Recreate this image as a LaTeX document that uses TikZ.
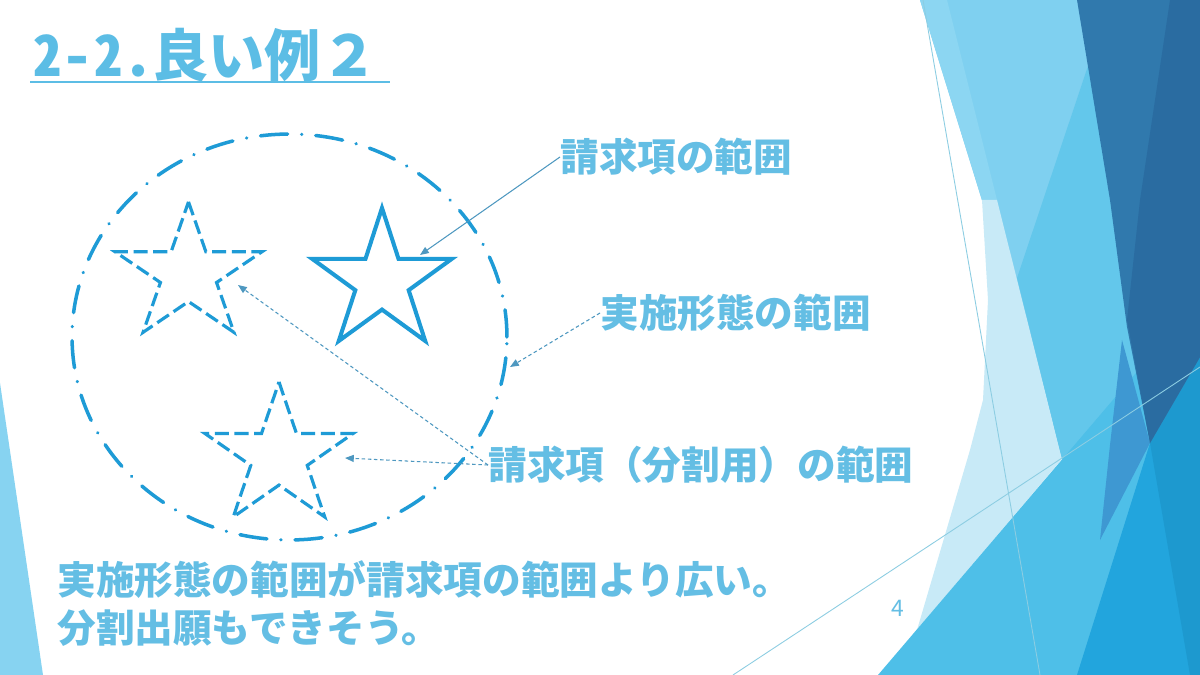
\documentclass[tikz,border=0pt]{standalone}
\usepackage{fontspec}
\setmainfont{Noto Sans CJK JP}
\usetikzlibrary{arrows.meta}
\definecolor{txtblue}{RGB}{100,190,228}
\definecolor{ttlblue}{RGB}{92,189,229}
\definecolor{shpblue}{RGB}{30,155,214}
\definecolor{arrblue}{RGB}{78,152,192}
\definecolor{bgLB}{RGB}{127,208,240}
\definecolor{bgLS}{RGB}{140,214,242}
\definecolor{bgP}{RGB}{200,234,247}
\definecolor{bgM}{RGB}{99,199,235}
\definecolor{bgBT}{RGB}{78,191,232}
\definecolor{bgBTb}{RGB}{34,165,221}
\definecolor{bgBTc}{RGB}{29,153,207}
\definecolor{bgMD}{RGB}{62,152,210}
\definecolor{bgD}{RGB}{48,121,173}
\definecolor{bgDD}{RGB}{42,108,161}
\definecolor{bgLine}{RGB}{140,205,226}
\definecolor{bgLeft}{RGB}{135,211,241}
\begin{document}
\begin{tikzpicture}[x=0.02cm,y=-0.02cm,
  lbl/.style={inner sep=0pt, anchor=west, text=txtblue, font=\fontsize{22}{26}\selectfont\bfseries},
  cline/.style={arrblue, line width=0.6pt, -{Triangle[length=5pt,width=4pt]}},
  dline/.style={cline, dash pattern=on 2pt off 1.5pt},
  solidstar/.style={draw=shpblue, line width=2.3pt, line join=miter},
  dashstar/.style={draw=shpblue, line width=1.8pt, dash pattern=on 8pt off 3.2pt},
  ringline/.style={draw=shpblue, line width=2pt, line cap=round, dash pattern=on 15.5pt off 8pt on 0.01pt off 8pt}]

\useasboundingbox (0,0) rectangle (1200,675);
\fill[white] (0,0) rectangle (1200,675);

% background facets
\fill[bgLB] (920,0) -- (1200,0) -- (1200,675) -- (1062,459) -- cycle;
\fill[bgLS] (920,0) -- (947,0) -- (997,200) -- (982,200) -- cycle;
\fill[bgP] (982,200) -- (997,200) -- (1062,459) -- (914,633) -- (917,630) -- (970,450) -- (983,400) -- (988,300) -- cycle;
\fill[bgM] (1090,60) -- (1150,443) -- (1062,459) -- (1017,278) -- cycle;
\fill[bgBT] (878,675) -- (1200,298) -- (1200,675) -- cycle;
\fill[bgMD] (1122,340) -- (1150,443) -- (1100,540) -- (1110,445) -- cycle;
\fill[bgBTb] (1150,443) -- (1200,357) -- (1200,675) -- (1077,675) -- cycle;
\fill[bgBTc] (1150,443) -- (1200,357) -- (1200,675) -- (1190,675) -- cycle;
\fill[bgD] (1077,0) -- (1200,0) -- (1200,357) -- (1150,443) -- (1127,327) -- (1110,200) -- cycle;
\fill[bgDD] (1170,0) -- (1200,0) -- (1200,357) -- (1150,443) -- (1127,320) -- (1140,200) -- cycle;
\fill[bgLeft] (0,383) -- (43,675) -- (0,675) -- cycle;
\draw[bgLine, line width=0.5pt] (923,0) -- (1040,675);
\draw[bgLine, line width=0.5pt] (733,675) -- (1200,367);

% title
\node[inner sep=0pt, anchor=base west, text=ttlblue, font=\fontsize{32}{36}\selectfont\bfseries] (title) at (33,77) {{\addfontfeature{RawFeature=+hwid,LetterSpace=4}2-2.}良い例２};
\draw[ttlblue, line width=1.4pt] (30,82) -- (390,82);

% ring
\draw[ringline] (289.5,337) ellipse [x radius=4.35cm, y radius=4.06cm];

% solid star
\begin{scope}[shift={(382,281.5)}, xscale=73.5, yscale=73.5]
\draw[solidstar] (0,-1) -- (0.2245,-0.309) -- (0.951,-0.309) -- (0.363,0.118) -- (0.588,0.809) -- (0,0.382) -- (-0.588,0.809) -- (-0.363,0.118) -- (-0.951,-0.309) -- (-0.2245,-0.309) -- cycle;
\end{scope}
% dashed star upper left
\begin{scope}[shift={(188.5,274)}, xscale=77.3, yscale=72.1]
\draw[dashstar] (0,-1) -- (0.2245,-0.309) -- (0.951,-0.309) -- (0.363,0.118) -- (0.588,0.809) -- (0,0.382) -- (-0.588,0.809) -- (-0.363,0.118) -- (-0.951,-0.309) -- (-0.2245,-0.309) -- cycle;
\end{scope}
% dashed star bottom
\begin{scope}[shift={(279,456.6)}, xscale=77.8, yscale=74.6]
\draw[dashstar] (0,-1) -- (0.2245,-0.309) -- (0.951,-0.309) -- (0.363,0.118) -- (0.588,0.809) -- (0,0.382) -- (-0.588,0.809) -- (-0.363,0.118) -- (-0.951,-0.309) -- (-0.2245,-0.309) -- cycle;
\end{scope}

% labels
\node[lbl] (claim) at (560,157) {請求項の範囲};
\node[lbl] (embod) at (600,313) {実施形態の範囲};
\node[lbl] (divide) at (488,465) {請求項（分割用）の範囲};
\node[lbl] (note1) at (57,580) {実施形態の範囲が請求項の範囲より広い。};
\node[lbl] (note2) at (57,628) {分割出願もできそう。};
\node[inner sep=0pt, text=txtblue, font=\fontsize{13}{15}\selectfont] (page) at (898,608) {4};

% connectors
\coordinate (t1) at (420,255);
\coordinate (t2) at (510,367);
\coordinate (t3) at (238,285);
\coordinate (t4) at (345,458);
\draw[cline] (claim.west) -- (t1);
\draw[dline] (embod.west) -- (t2);
\draw[dline] (divide.west) -- (t3);
\draw[dline] (divide.west) -- (t4);
\end{tikzpicture}
\end{document}
